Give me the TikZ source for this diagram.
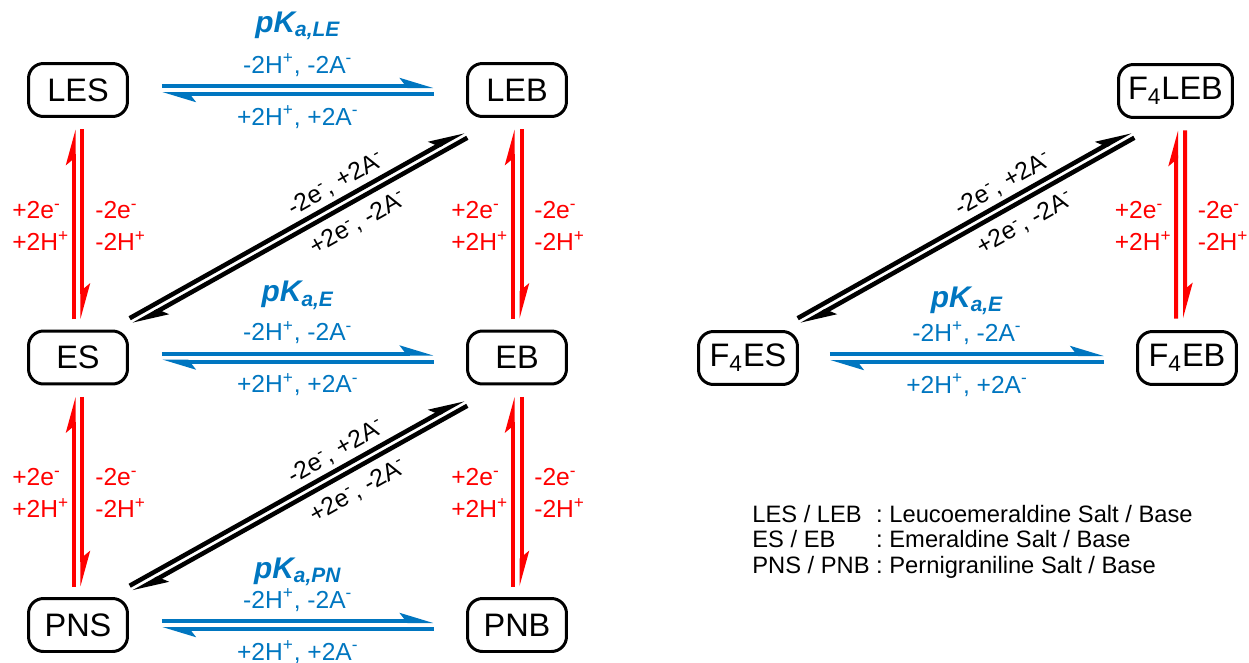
\documentclass[tikz,border=0pt]{standalone}
\usepackage{fontspec}
\setmainfont{Liberation Sans}
\usetikzlibrary{arrows.meta,calc}
\definecolor{cblue}{RGB}{0,118,192}
\definecolor{cred}{RGB}{255,0,0}

\newcommand\eqarr[4]{%
  \draw[#1] ($(#2)!#4!90:(#3)$) -- ($(#3)!#4!-90:(#2)$);
  \draw[#1] ($(#3)!#4!90:(#2)$) -- ($(#2)!#4!-90:(#3)$);
}
\newcommand\redlab[2]{%
  \node[lab, cred, anchor=base west] (#2a) at ([shift={(-66,-6)}]#1) {+2e\textsuperscript{-}};
  \node[lab, cred, anchor=base west] (#2b) at ([shift={(-66,26)}]#1) {+2H\textsuperscript{+}};
  \node[lab, cred, anchor=base west] (#2c) at ([shift={(17,-6)}]#1) {-2e\textsuperscript{-}};
  \node[lab, cred, anchor=base west] (#2d) at ([shift={(17,26)}]#1) {-2H\textsuperscript{+}};
}
\newcommand\bluelab[4]{%
  \node[pka, anchor=base] (#4k) at ([shift={(0,#3)}]#1) {pK\textsubscript{#2}};
  \node[lab, cblue, anchor=base] (#4u) at ([shift={(0,-17)}]#1) {-2H\textsuperscript{+}, -2A\textsuperscript{-}};
  \node[lab, cblue, anchor=base] (#4l) at ([shift={(0,35)}]#1) {+2H\textsuperscript{+}, +2A\textsuperscript{-}};
}
\newcommand\blacklab[3]{%
  \coordinate (#3p) at ($(#1)!0.642!(#2)$);
  \node[lab, rotate=29.5] (#3u) at ($(#3p)!0.40cm!90:(#2)$) {-2e\textsuperscript{-}, +2A\textsuperscript{-}};
  \node[lab, rotate=29.5] (#3l) at ($(#3p)!0.50cm!-90:(#2)$) {+2e\textsuperscript{-}, -2A\textsuperscript{-}};
}

\tikzset{
  box/.style={draw, line width=0.06cm, rounded corners=0.3cm, minimum width=1.98cm,
    minimum height=1.06cm, inner sep=0pt, font=\fontsize{18.5}{21}\selectfont},
  harpb/.style={line width=0.08cm, cblue, -{Stealth[harpoon, length=0.54cm, width=0.32cm, inset=0.12cm]}},
  harpr/.style={line width=0.08cm, cred, -{Stealth[harpoon, length=0.56cm, width=0.30cm, inset=0.12cm]}},
  harpk/.style={line width=0.09cm, black, -{Stealth[harpoon, length=0.56cm, width=0.32cm, inset=0.12cm]}},
  lab/.style={font=\fontsize{14}{16}\selectfont, inner sep=0pt},
  pka/.style={font=\fontsize{17}{19}\selectfont\bfseries\itshape, cblue, inner sep=0pt},
}

\begin{document}
\begin{tikzpicture}[x=0.02cm, y=-0.02cm]
\useasboundingbox (0,0) rectangle (1249,663);

% nodes
\node[box] (LES) at (78,90) {LES};
\node[box] (LEB) at (517,90) {LEB};
\node[box] (ES) at (78,357.5) {ES};
\node[box] (EB) at (517,357.5) {EB};
\node[box] (PNS) at (78,625) {PNS};
\node[box] (PNB) at (517,625) {PNB};
\node[box, minimum width=2.28cm] (F4LEB) at (1175.5,91) {F\textsubscript{4}LEB};
\node[box] (F4ES) at (748,358) {F\textsubscript{4}ES};
\node[box] (F4EB) at (1187,358) {F\textsubscript{4}EB};

% horizontal (blue) equilibria
\coordinate (h1a) at ([shift={(33,0)}]LES.east);
\coordinate (h1b) at ([shift={(-32.5,0)}]LEB.west);
\coordinate (h2a) at ([shift={(33,0)}]ES.east);
\coordinate (h2b) at ([shift={(-32.5,0)}]EB.west);
\coordinate (h3a) at ([shift={(33,0)}]PNS.east);
\coordinate (h3b) at ([shift={(-32.5,0)}]PNB.west);
\coordinate (h4a) at ([shift={(31,0)}]F4ES.east);
\coordinate (h4b) at ([shift={(-32,0)}]F4EB.west);
\eqarr{harpb}{h1a}{h1b}{0.08cm}
\eqarr{harpb}{h2a}{h2b}{0.08cm}
\eqarr{harpb}{h3a}{h3b}{0.08cm}
\eqarr{harpb}{h4a}{h4b}{0.08cm}
\coordinate (h1m) at ($(h1a)!0.5!(h1b)$);
\coordinate (h2m) at ($(h2a)!0.5!(h2b)$);
\coordinate (h3m) at ($(h3a)!0.5!(h3b)$);
\coordinate (h4m) at ($(h4a)!0.5!(h4b)$);
\bluelab{h1m}{a,LE}{-58}{bl1}
\bluelab{h2m}{a,E}{-56}{bl2}
\bluelab{h3m}{a,PN}{-47}{bl3}
\bluelab{h4m}{a,E}{-51}{bl4}

% vertical (red) equilibria
\coordinate (v1a) at ([shift={(0,11.5)}]LES.south);
\coordinate (v1b) at ([shift={(0,-10.5)}]ES.north);
\coordinate (v2a) at ([shift={(0,11.5)}]LEB.south);
\coordinate (v2b) at ([shift={(0,-10.5)}]EB.north);
\coordinate (v3a) at ([shift={(0,11.5)}]ES.south);
\coordinate (v3b) at ([shift={(0,-10.5)}]PNS.north);
\coordinate (v4a) at ([shift={(0,11.5)}]EB.south);
\coordinate (v4b) at ([shift={(0,-10.5)}]PNB.north);
\coordinate (v5a) at ([shift={(5,11.5)}]F4LEB.south);
\coordinate (v5b) at ([shift={(-6.5,-11.5)}]F4EB.north);
\eqarr{harpr}{v1a}{v1b}{0.09cm}
\eqarr{harpr}{v2a}{v2b}{0.09cm}
\eqarr{harpr}{v3a}{v3b}{0.09cm}
\eqarr{harpr}{v4a}{v4b}{0.09cm}
\eqarr{harpr}{v5a}{v5b}{0.09cm}
\coordinate (v1m) at ($(v1a)!0.5!(v1b)$);
\coordinate (v2m) at ($(v2a)!0.5!(v2b)$);
\coordinate (v3m) at ($(v3a)!0.5!(v3b)$);
\coordinate (v4m) at ($(v4a)!0.5!(v4b)$);
\coordinate (v5m) at ($(v5a)!0.5!(v5b)$);
\redlab{v1m}{rl1}
\redlab{v2m}{rl2}
\redlab{v3m}{rl3}
\redlab{v4m}{rl4}
\redlab{v5m}{rl5}

% diagonal (black) equilibria
\coordinate (d1a) at ([shift={(2.5,-8)}]ES.north east);
\coordinate (d1b) at ([shift={(-0.5,16.5)}]LEB.south west);
\coordinate (d2a) at ([shift={(2.5,-8)}]PNS.north east);
\coordinate (d2b) at ([shift={(-0.5,17)}]EB.south west);
\coordinate (d3a) at ([shift={(0.5,-8.5)}]F4ES.north east);
\coordinate (d3b) at ([shift={(15.5,15.5)}]F4LEB.south west);
\eqarr{harpk}{d1a}{d1b}{0.075cm}
\eqarr{harpk}{d2a}{d2b}{0.075cm}
\eqarr{harpk}{d3a}{d3b}{0.075cm}
\blacklab{d1a}{d1b}{kl1}
\blacklab{d2a}{d2b}{kl2}
\blacklab{d3a}{d3b}{kl3}

% legend
\node[anchor=base west, inner sep=0pt, font=\fontsize{13.5}{14.74}\selectfont] (legend) at (752,522)
  {\begin{tabular}[t]{@{}l@{ : }l@{}}
   LES / LEB & Leucoemeraldine Salt / Base\\
   ES / EB & Emeraldine Salt / Base\\
   PNS / PNB & Pernigraniline Salt / Base
   \end{tabular}};
\end{tikzpicture}
\end{document}
